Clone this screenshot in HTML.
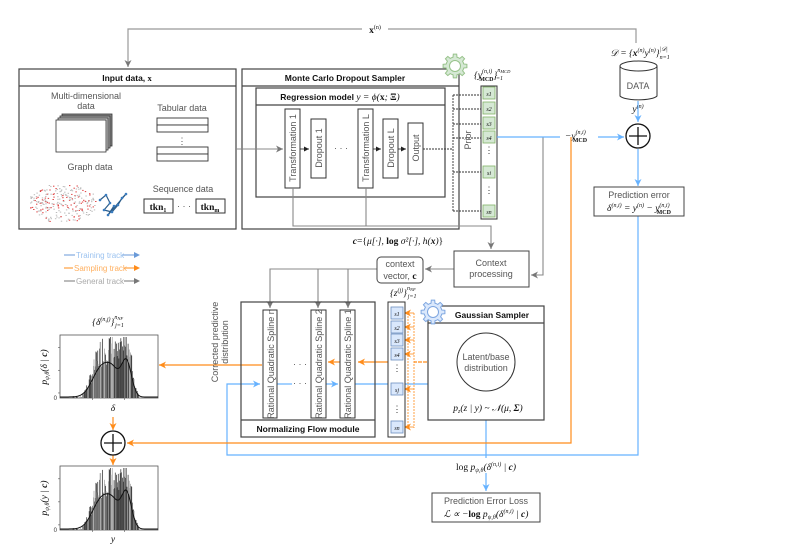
<!DOCTYPE html>
<html><head><meta charset="utf-8"><style>
html,body{margin:0;padding:0;background:#fff;}
svg{display:block;font-family:"Liberation Sans",sans-serif;}
.t{font-size:9px;fill:#555;}
.b{font-size:8.5px;font-weight:bold;fill:#111;}
.m{font-family:"Liberation Serif",serif;font-size:9.5px;fill:#111;font-style:italic;}
.mb{font-family:"Liberation Serif",serif;font-size:9.5px;fill:#111;font-weight:bold;}
</style></head><body>
<svg id="s" width="793" height="560" viewBox="0 0 793 560" xmlns="http://www.w3.org/2000/svg">
<defs>
<marker id="ag" markerWidth="8" markerHeight="8" refX="7" refY="4" orient="auto" markerUnits="userSpaceOnUse"><path d="M0,0.5 L7,4 L0,7.5 L2,4z" fill="#777"/></marker>
<marker id="ab" markerWidth="8" markerHeight="8" refX="7" refY="4" orient="auto" markerUnits="userSpaceOnUse"><path d="M0,0.5 L7,4 L0,7.5 L2,4z" fill="#66b2ff"/></marker>
<marker id="ao" markerWidth="8" markerHeight="8" refX="7" refY="4" orient="auto" markerUnits="userSpaceOnUse"><path d="M0,0.5 L7,4 L0,7.5 L2,4z" fill="#ff8c1a"/></marker>
<marker id="ak" markerWidth="6" markerHeight="6" refX="5" refY="3" orient="auto" markerUnits="userSpaceOnUse"><path d="M0,0.5 L5,3 L0,5.5z" fill="#222"/></marker>
</defs>
<g fill="none" stroke-width="1.2">
<path d="M636,43 V29 H128 V67" stroke="#999" marker-end="url(#ag)"/>
</g>
<rect x="362" y="23" width="26" height="12" fill="#fff"/>
<text x="375" y="33" class="mb" text-anchor="middle">x<tspan font-size="6" dy="-4" font-weight="normal">(n)</tspan></text>

<rect x="19" y="69" width="217" height="160" fill="#fff" stroke="#444" stroke-width="1.2"/>
<line x1="19" y1="86" x2="236" y2="86" stroke="#444" stroke-width="1.2"/>
<text x="127" y="81" class="b" text-anchor="middle">Input data, <tspan font-family="Liberation Serif">x</tspan></text>
<text x="86" y="99" class="t" text-anchor="middle">Multi-dimensional</text>
<text x="86" y="109" class="t" text-anchor="middle">data</text>
<g stroke="#333" stroke-width="0.8">
<rect x="62" y="114" width="50" height="32" fill="#888"/>
<rect x="60" y="116" width="50" height="32" fill="#aaa"/>
<rect x="58" y="118" width="50" height="32" fill="#ccc"/>
<rect x="56" y="120" width="50" height="32" fill="#fff"/>
</g>
<text x="182" y="111" class="t" text-anchor="middle">Tabular data</text>
<g fill="#fff" stroke="#333" stroke-width="0.9">
<rect x="157" y="118" width="51" height="7"/><rect x="157" y="125" width="51" height="7"/>
<rect x="157" y="147" width="51" height="7"/><rect x="157" y="154" width="51" height="7"/>
</g>
<text x="182" y="144" class="t" text-anchor="middle">⋮</text>
<text x="90" y="170" class="t" text-anchor="middle">Graph data</text>
<g id="graph"></g>
<text x="183" y="192" class="t" text-anchor="middle">Sequence data</text>
<rect x="144" y="199" width="29" height="14" fill="#fff" stroke="#333"/>
<rect x="196" y="199" width="29" height="14" fill="#fff" stroke="#333"/>
<text x="158" y="210" class="mb" text-anchor="middle">tkn<tspan font-size="6" dy="2">1</tspan></text>
<text x="210" y="210" class="mb" text-anchor="middle">tkn<tspan font-size="6" dy="2">m</tspan></text>
<text x="184" y="209" class="t" text-anchor="middle">· · ·</text>

<rect x="242" y="69" width="217" height="160" fill="#fff" stroke="#444" stroke-width="1.2"/>
<line x1="242" y1="86" x2="459" y2="86" stroke="#444" stroke-width="1.2"/>
<text x="345" y="81" class="b" text-anchor="middle">Monte Carlo Dropout Sampler</text>
<rect x="256" y="88" width="189" height="109" fill="#fff" stroke="#444" stroke-width="1.2"/>
<line x1="256" y1="105" x2="445" y2="105" stroke="#444" stroke-width="1.2"/>
<text x="340" y="100" class="b" text-anchor="middle">Regression model <tspan class="m" font-weight="normal">y = ϕ(</tspan><tspan class="mb">x</tspan><tspan class="m" font-weight="normal">; </tspan><tspan class="mb">Ξ</tspan><tspan class="m" font-weight="normal">)</tspan></text>
<path d="M236,149 H283" stroke="#888" fill="none" marker-end="url(#ag)"/>
<g fill="#fff" stroke="#333" stroke-width="1">
<rect x="285" y="109" width="15" height="79"/>
<rect x="311" y="119" width="15" height="59"/>
<rect x="358" y="109" width="15" height="79"/>
<rect x="383" y="119" width="15" height="59"/>
<rect x="408" y="123" width="15" height="51"/>
</g>
<g class="t" font-size="8.5">
<text transform="translate(296,148) rotate(-90)" text-anchor="middle">Transformation 1</text>
<text transform="translate(322,148) rotate(-90)" text-anchor="middle">Dropout 1</text>
<text transform="translate(369,148) rotate(-90)" text-anchor="middle">Transformation L</text>
<text transform="translate(394,148) rotate(-90)" text-anchor="middle">Dropout L</text>
<text transform="translate(419,148) rotate(-90)" text-anchor="middle">Output</text>
<text x="341" y="151" text-anchor="middle">· · ·</text>
</g>
<g stroke="#333" fill="none" stroke-width="0.9">
<path d="M300,149 H309" marker-end="url(#ak)"/>
<path d="M373,149 H381" marker-end="url(#ak)"/>
<path d="M398,149 H406" marker-end="url(#ak)"/>
<path d="M423,149 H453" stroke-dasharray="2,1"/>
<path d="M453,95 V211" stroke-dasharray="2,1"/>
<path d="M453,95 H481 M453,109 H481 M453,124 H481 M453,138 H481 M453,172 H481 M453,211 H481" stroke-dasharray="2,1"/>
</g>
<text transform="translate(471,140) rotate(-90)" class="t" text-anchor="middle">Prior</text>
<g id="gear1"></g>
<text x="474" y="78" class="m">{y<tspan font-size="6" dy="-5">(n,i)</tspan><tspan font-size="6" dx="-13" dy="8" font-style="normal" font-weight="bold">MCD</tspan><tspan dy="-3">}</tspan><tspan font-size="6" dy="-6">n</tspan><tspan font-size="4.5" dy="1">MCD</tspan><tspan font-size="6" dx="-16" dy="7">i=1</tspan></text>
<rect x="481" y="86" width="16" height="133" fill="#fff" stroke="#333"/>
<g id="gcol"></g>

<g fill="none" stroke="#888" stroke-width="1.1">
<path d="M293,188 V226 H491 V249" marker-end="url(#ag)"/>
<path d="M366,188 V226"/>
<path d="M543,137 V275 H531" marker-end="url(#ag)"/>
<path d="M454,269 H425" marker-end="url(#ag)"/>
<path d="M377,269 H270 V308" marker-end="url(#ag)"/>
<path d="M318,269 V308" marker-end="url(#ag)"/>
<path d="M348,269 V308" marker-end="url(#ag)"/>
</g>
<text x="398" y="244" class="m" text-anchor="middle"><tspan class="mb">c</tspan><tspan font-style="normal">={</tspan>μ[·], <tspan font-style="normal" font-weight="bold">log</tspan> σ²[·], h(<tspan class="mb">x</tspan>)<tspan font-style="normal">}</tspan></text>
<rect x="454" y="251" width="75" height="36" fill="#fff" stroke="#444"/>
<text x="491" y="266" class="t" text-anchor="middle">Context</text>
<text x="491" y="277" class="t" text-anchor="middle">processing</text>
<rect x="377" y="257" width="46" height="26" rx="4" fill="#fff" stroke="#444"/>
<text x="400" y="267" class="t" font-size="8" text-anchor="middle">context</text>
<text x="400" y="279" class="t" font-size="8" text-anchor="middle">vector, <tspan class="mb">c</tspan></text>

<text x="640" y="56" class="m" text-anchor="middle">𝒟 = {<tspan class="mb">x</tspan><tspan font-size="6" dy="-4">(n)</tspan><tspan dy="4">y</tspan><tspan font-size="6" dy="-4">(n)</tspan><tspan dy="4">}</tspan><tspan font-size="6" dy="-5">|𝒟|</tspan><tspan font-size="6" dx="-8" dy="8">n=1</tspan></text>
<path d="M620,66 V96 A19,5 0 0 0 657,96 V66" fill="#fff" stroke="#333"/>
<ellipse cx="638.5" cy="66" rx="18.5" ry="5" fill="#fff" stroke="#333"/>
<text x="638" y="89" class="t" text-anchor="middle">DATA</text>
<text x="638" y="112" class="m" text-anchor="middle">y<tspan font-size="6" dy="-4">(n)</tspan></text>
<g fill="none" stroke="#66b2ff" stroke-width="1.2">
<path d="M638,101 V122" marker-end="url(#ab)"/>
<path d="M497,137 H624" marker-end="url(#ab)"/>
<path d="M638,149 V186" marker-end="url(#ab)"/>
<path d="M638,216 V455 H227 V384 H260" marker-end="url(#ab)"/>
<path d="M326,384 H338" marker-end="url(#ab)"/>
<path d="M277,384 H292"/>
<path d="M355,384 H455" marker-end="url(#ab)"/>
<path d="M486,391 V491" marker-end="url(#ab)"/>
</g>
<rect x="560" y="126" width="38" height="16" fill="#fff"/>
<text x="576" y="139" class="m" text-anchor="middle">−y<tspan font-size="6" dy="-5">(n,i)</tspan><tspan font-size="6" dx="-13" dy="8" font-style="normal" font-weight="bold">MCD</tspan></text>
<circle cx="638" cy="136" r="12" fill="#fff" stroke="#111" stroke-width="1.3"/>
<path d="M629,136 H647 M638,127 V145" stroke="#111" stroke-width="1.3"/>
<rect x="594" y="187" width="90" height="29" fill="#fff" stroke="#444"/>
<text x="639" y="198" class="t" text-anchor="middle">Prediction error</text>
<text x="639" y="211" class="m" text-anchor="middle">δ<tspan font-size="6" dy="-4">(n,i)</tspan><tspan dy="4"> = y</tspan><tspan font-size="6" dy="-4">(n)</tspan><tspan dy="4"> − y</tspan><tspan font-size="6" dy="-4">(n,i)</tspan><tspan font-size="6" dx="-13" dy="7" font-style="normal" font-weight="bold">MCD</tspan></text>

<g fill="none" stroke="#ff8c1a" stroke-width="1.2">
<path d="M571,137 V443 H127" marker-end="url(#ao)"/>
<path d="M390,362 H358" marker-end="url(#ao)"/>
<path d="M340,362 H328" marker-end="url(#ao)"/>
<path d="M262,365 H159" marker-end="url(#ao)"/>
<path d="M113,417 V430" marker-end="url(#ao)"/>
<path d="M113,455 V465" marker-end="url(#ao)"/>
<path d="M457,362 H414" stroke-dasharray="4,1"/>
<path d="M414,313 V428 M408,313 V428" stroke-dasharray="2,1" stroke-width="0.8"/>
</g>
<g id="ocol"></g>

<rect x="241" y="302" width="134" height="135" fill="none" stroke="#444" stroke-width="1.2"/>
<line x1="241" y1="420" x2="375" y2="420" stroke="#444" stroke-width="1.2"/>
<text x="308" y="432" class="b" text-anchor="middle">Normalizing Flow module</text>
<g fill="#fff" stroke="#333">
<rect x="263" y="310" width="14" height="108"/><rect x="311" y="310" width="15" height="108"/><rect x="340" y="310" width="15" height="108"/>
</g>
<g class="t" font-size="8.5">
<text transform="translate(274,364) rotate(-90)" text-anchor="middle">Rational Quadratic Spline n</text>
<text transform="translate(322,364) rotate(-90)" text-anchor="middle">Rational Quadratic Spline 2</text>
<text transform="translate(351,364) rotate(-90)" text-anchor="middle">Rational Quadratic Spline 1</text>
<text x="300" y="367" text-anchor="middle">· · ·</text><text x="300" y="386" text-anchor="middle">· · ·</text>
<text transform="translate(218,342) rotate(-90)" text-anchor="middle">Corrected predictive</text>
<text transform="translate(228,342) rotate(-90)" text-anchor="middle">distribution</text>
</g>
<text x="390" y="296" class="m">{z<tspan font-size="6" dy="-4">(j)</tspan><tspan dy="4">}</tspan><tspan font-size="6" dy="-6">n</tspan><tspan font-size="4.5" dy="1">NF</tspan><tspan font-size="6" dx="-8" dy="7">j=1</tspan></text>
<rect x="388" y="302" width="17" height="135" fill="#fff" stroke="#333"/>
<g id="bcol"></g>

<rect x="428" y="306" width="116" height="114" fill="#fff" stroke="#444" stroke-width="1.2"/>
<line x1="428" y1="323" x2="544" y2="323" stroke="#444" stroke-width="1.2"/>
<text x="492" y="318" class="b" text-anchor="middle">Gaussian Sampler</text>
<circle cx="486" cy="362" r="29" fill="#fff" stroke="#333"/>
<text x="486" y="360" class="t" font-size="8" text-anchor="middle">Latent/base</text>
<text x="486" y="371" class="t" font-size="8" text-anchor="middle">distribution</text>
<text x="488" y="411" class="m" text-anchor="middle">p<tspan font-size="6" dy="2">z</tspan><tspan dy="-2">(z | y) ~ 𝒩(μ, </tspan><tspan class="mb">Σ</tspan>)</text>
<g id="gear2"></g>

<rect x="440" y="458" width="92" height="15" fill="#fff"/>
<text x="486" y="470" class="m" text-anchor="middle"><tspan font-style="normal">log</tspan> p<tspan font-size="6" dy="2">ψ,θ</tspan><tspan dy="-2">(δ</tspan><tspan font-size="6" dy="-4">(n,i)</tspan><tspan dy="4"> | </tspan><tspan class="mb">c</tspan>)</text>
<rect x="432" y="493" width="108" height="29" fill="#fff" stroke="#444"/>
<text x="486" y="504" class="t" text-anchor="middle">Prediction Error Loss</text>
<text x="486" y="517" class="m" text-anchor="middle">ℒ ∝ −<tspan font-style="normal" font-weight="bold">log</tspan> p<tspan font-size="6" dy="2">ψ,θ</tspan><tspan dy="-2">(δ</tspan><tspan font-size="6" dy="-4">(n,i)</tspan><tspan dy="4"> | </tspan><tspan class="mb">c</tspan>)</text>

<g font-size="8">
<path d="M64,255 H75 M122,255 H138" stroke="#6a9ad8"/><path d="M134,252 L140,255 L134,258z" fill="#6a9ad8"/>
<text x="76" y="258" fill="#9cc3f0">Training track</text>
<path d="M64,268 H73 M124,268 H138" stroke="#ff8c1a"/><path d="M134,265 L140,268 L134,271z" fill="#ff8c1a"/>
<text x="74" y="271" fill="#ffb060">Sampling track</text>
<path d="M64,281 H75 M124,281 H138" stroke="#777"/><path d="M134,278 L140,281 L134,284z" fill="#777"/>
<text x="76" y="284" fill="#aaa">General track</text>
</g>

<g id="h1"></g><g id="h2"></g>
<text x="108" y="325" class="m" text-anchor="middle">{δ<tspan font-size="6" dy="-4">(n,j)</tspan><tspan dy="4">}</tspan><tspan font-size="6" dy="-6">n</tspan><tspan font-size="4.5" dy="1">NF</tspan><tspan font-size="6" dx="-8" dy="7">j=1</tspan></text>
<text x="113" y="411" class="m" text-anchor="middle">δ</text>
<text x="113" y="542" class="m" text-anchor="middle">y</text>
<text transform="translate(47,367) rotate(-90)" class="m" text-anchor="middle">p<tspan font-size="6" dy="2">ψ,θ</tspan><tspan dy="-2">(δ | </tspan><tspan class="mb">c</tspan>)</text>
<text transform="translate(47,498) rotate(-90)" class="m" text-anchor="middle">p<tspan font-size="6" dy="2">ψ,θ</tspan><tspan dy="-2">(y | </tspan><tspan class="mb">c</tspan>)</text>
<circle cx="113" cy="443" r="12" fill="#fff" stroke="#111" stroke-width="1.3"/>
<path d="M104,443 H122 M113,434 V452" stroke="#111" stroke-width="1.3"/>
</svg>
<script>
var NS="http://www.w3.org/2000/svg";
function el(p,t,a){var e=document.createElementNS(NS,t);for(var k in a)e.setAttribute(k,a[k]);document.getElementById(p).appendChild(e);return e;}
function cells(id,x,ys,fill,st,lab){ys.forEach(function(y,i){el(id,"rect",{x:x,y:y-6,width:12,height:12,fill:fill,stroke:st,"stroke-width":0.8});var t=el(id,"text",{x:x+6,y:y+3,"font-size":6,"font-style":"italic","font-family":"Liberation Serif","text-anchor":"middle",fill:"#111"});t.textContent=lab[i];});}
cells("gcol",483,[93,108,123,137,172,211],"#d5e8d4","#82b366",["s1","s2","s3","s4","si","sn"]);
[150,190].forEach(function(y){var t=el("gcol","text",{x:489,y:y+3,"font-size":9,"text-anchor":"middle",fill:"#333"});t.textContent="⋮";});
cells("bcol",391,[313,327,340,354,389,427],"#dae8fc","#6c8ebf",["s1","s2","s3","s4","sj","sn"]);
[368,409].forEach(function(y){var t=el("bcol","text",{x:397,y:y+3,"font-size":9,"text-anchor":"middle",fill:"#333"});t.textContent="⋮";});
[313,327,340,354,389,427].forEach(function(y){el("ocol","path",{d:"M414,"+y+" H404",stroke:"#ff8c1a",fill:"none","stroke-width":0.8,"marker-end":"url(#ao)"});});
function gear(id,cx,cy,col,fill){var d="";for(var i=0;i<8;i++){var a=i*Math.PI/4;for(var j=0;j<4;j++){var aa=a+[-0.22,-0.14,0.14,0.22][j];var r=[9,12,12,9][j];d+=(i==0&&j==0?"M":"L")+(cx+r*Math.cos(aa)).toFixed(1)+","+(cy+r*Math.sin(aa)).toFixed(1);}var a2=a+Math.PI/8;d+="L"+(cx+9*Math.cos(a2)).toFixed(1)+","+(cy+9*Math.sin(a2)).toFixed(1);}d+="Z";el(id,"path",{d:d,fill:fill,stroke:col,"stroke-width":1});el(id,"circle",{cx:cx,cy:cy,r:5.5,fill:"#fff",stroke:col});}
gear("gear1",455,66,"#97c28a","#d5e8d4");gear("gear2",433,312,"#7ea6e0","#dae8fc");
var seed=7;function rnd(){seed=(seed*9301+49297)%233280;return seed/233280;}
for(var i=0;i<300;i++){var x=30+rnd()*66,y=185+rnd()*36;if(Math.abs((x-63)/36)+Math.abs((y-203)/20)>1.3)continue;el("graph","rect",{x:x.toFixed(1),y:y.toFixed(1),width:1.4,height:1,fill:rnd()<0.3?"#e04040":"#bbb"});}
var pts=[[100,200],[106,195],[110,203],[104,210],[112,212],[118,205],[122,198],[126,194],[108,215],[114,206]];
for(var i=0;i<pts.length-1;i++)el("graph","line",{x1:pts[i][0],y1:pts[i][1],x2:pts[i+1][0],y2:pts[i+1][1],stroke:"#2a5c8a","stroke-width":1.2});
pts.forEach(function(p){el("graph","circle",{cx:p[0],cy:p[1],r:1.3,fill:"#3a7cc0"});});
function hist(id,x0,y0,w,h){el(id,"rect",{x:x0,y:y0,width:w,height:h,fill:"#fff",stroke:"#555","stroke-width":0.8});
var t=el(id,"text",{x:x0-3,y:y0+h+2,"font-size":6,"text-anchor":"end",fill:"#333"});t.textContent="0";
var s=7;function r(){s=(s*9301+49297)%233280;return s/233280;}
function f(u){function g(m,sd){return Math.exp(-0.5*((u-m)/sd)*((u-m)/sd));}return 0.5*g(0.42,0.09)+0.35*g(0.55,0.07)+0.6*g(0.68,0.05);}
for(var i=0;i<110;i++){var u=0.12+i*0.0062;var v=f(u)*(0.75+r()*0.8);var bh=Math.min(h-2,v*h*1.15);if(u<0.22)bh=r()*2;el(id,"rect",{x:(x0+u*w).toFixed(1),y:(y0+h-bh).toFixed(1),width:0.8,height:bh.toFixed(1),fill:r()<0.3?"#aaa":"#444"});}
var d="";for(var i=0;i<=60;i++){var u=i/60;var v=f(u);d+=(i?"L":"M")+(x0+u*w).toFixed(1)+","+(y0+h-1-v*h*0.9).toFixed(1);}el(id,"path",{d:d,fill:"none",stroke:"#111","stroke-width":1});
[0.1,0.55,1.0].forEach(function(u){el(id,"line",{x1:x0-2,x2:x0,y1:y0+h-u*h*0.8,y2:y0+h-u*h*0.8,stroke:"#555","stroke-width":0.6});});
[0.33,0.66].forEach(function(u){el(id,"line",{x1:x0+u*w,x2:x0+u*w,y1:y0+h,y2:y0+h+2,stroke:"#555","stroke-width":0.6});});}
hist("h1",60,335,98,63);hist("h2",60,466,98,64);
</script>
</body></html>
